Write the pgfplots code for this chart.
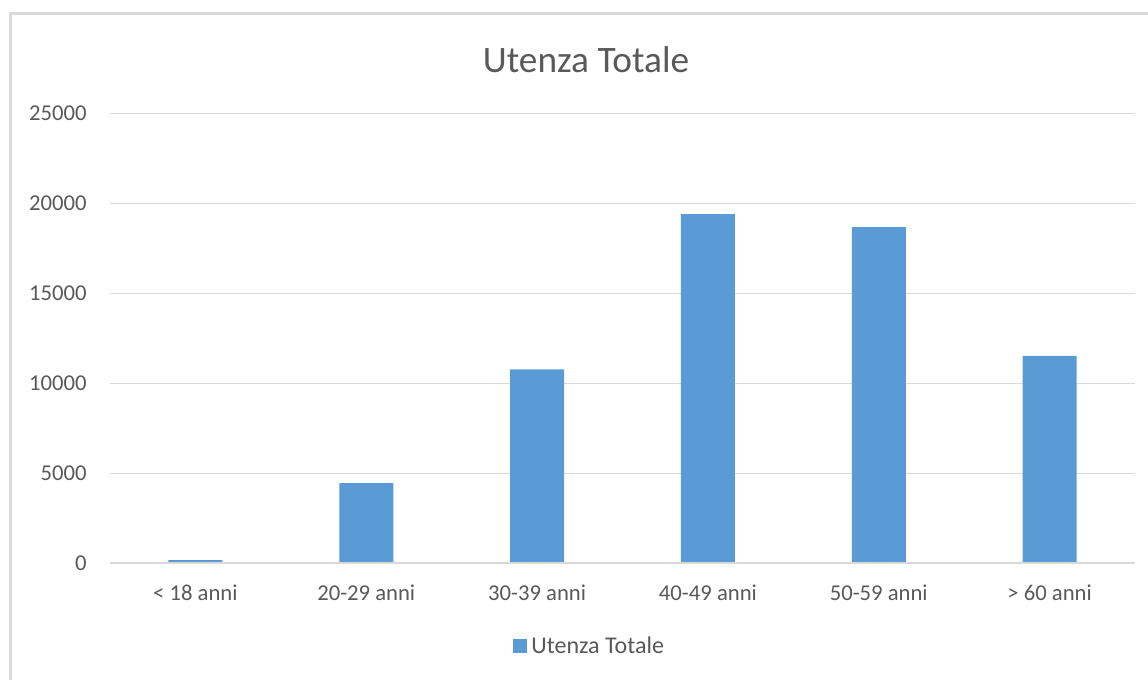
\documentclass[border=0pt]{standalone}
\usepackage{pgfplots}
\pgfplotsset{compat=1.18}
\usepackage{fontspec}
\setmainfont{Carlito}
\definecolor{barblue}{HTML}{5B9BD5}
\definecolor{txtc}{HTML}{595959}
\definecolor{gridc}{HTML}{D9D9D9}
\begin{document}
\begin{tikzpicture}
\path[use as bounding box] (0pt,0pt) rectangle (861pt,510pt);
\draw[gridc,line width=1.6pt] (7.9pt,0pt) -- (7.9pt,499.9pt) -- (861pt,499.9pt);
\node[txtc,font=\fontsize{28}{32}\selectfont] at (439.5pt,465pt) {Utenza Totale};
\begin{axis}[
  at={(82.5pt,87.5pt)}, anchor=south west,
  scale only axis, width=768.75pt, height=337.5pt,
  xmin=-0.5, xmax=5.5, ymin=0, ymax=25000,
  axis line style={draw=none},
  ytick={0,5000,...,25000},
  xtick={0,...,5},
  xticklabels={{< 18 anni},{20-29 anni},{30-39 anni},{40-49 anni},{50-59 anni},{> 60 anni}},
  major tick length=0pt,
  xmajorgrids=false,
  ymajorgrids, major grid style={draw=gridc,line width=0.9pt},
  tick label style={txtc,font=\fontsize{17}{19}\selectfont},
  /pgf/number format/assume math mode=true,
  scaled y ticks=false,
  yticklabel style={/pgf/number format/1000 sep={}, xshift=-14pt},
  xticklabel style={yshift=-13pt},
  legend style={at={(0.468,0)}, anchor=north, yshift=-51pt, draw=none,
    font=\fontsize{18}{20}\selectfont, text=txtc, legend cell align=left},
  legend image code/.code={\fill[barblue] (0pt,-5.2pt) rectangle (10.5pt,5.2pt);},
]
\addplot[ybar, bar width=40.5pt, fill=barblue, draw=none] coordinates {
 (0,180) (1,4460) (2,10780) (3,19400) (4,18680) (5,11520)};
\addlegendentry{\hspace{1.5pt}Utenza Totale}
\draw[gridc,line width=1.6pt] (rel axis cs:0,0) -- (rel axis cs:1,0);
\end{axis}
\end{tikzpicture}
\end{document}
